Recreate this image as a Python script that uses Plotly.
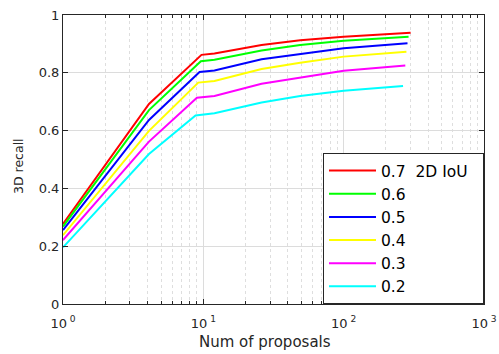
import plotly.graph_objects as go

names = ["0.7\u00a0\u00a02D IoU\u00a0\u00a0", "0.6", "0.5", "0.4", "0.3", "0.2"]
colors = ["#ff0000", "#00ff00", "#0000ff", "#ffff00", "#ff00ff", "#00ffff"]

x_red = [1, 4.1, 9.7, 12, 26, 49, 100, 300]
x_green = [1, 4.1, 9.6, 12, 26, 49, 100, 290]
x_blue = [1, 4.1, 9.4, 12, 26, 49, 100, 285]
x_yellow = [1, 4.1, 9.2, 12, 26, 49, 100, 280]
x_magenta = [1, 4.1, 9.0, 12, 26, 49, 100, 275]
x_cyan = [1, 4.1, 8.8, 12, 26, 49, 100, 265]

y_red = [0.277, 0.692, 0.862, 0.867, 0.896, 0.913, 0.925, 0.939]
y_green = [0.268, 0.671, 0.840, 0.845, 0.877, 0.896, 0.911, 0.925]
y_blue = [0.256, 0.637, 0.803, 0.808, 0.847, 0.865, 0.885, 0.902]
y_yellow = [0.238, 0.599, 0.766, 0.772, 0.813, 0.835, 0.856, 0.873]
y_magenta = [0.221, 0.562, 0.714, 0.720, 0.762, 0.784, 0.807, 0.825]
y_cyan = [0.196, 0.519, 0.652, 0.660, 0.697, 0.720, 0.738, 0.754]

xs = [x_red, x_green, x_blue, x_yellow, x_magenta, x_cyan]
ys = [y_red, y_green, y_blue, y_yellow, y_magenta, y_cyan]

x_tickvals = [1, 10, 100, 1000]
x_ticktext = ["10<sup> 0</sup>", "10<sup> 1</sup>", "10<sup> 2</sup>", "10<sup> 3</sup>"]
y_tickvals = [0, 0.2, 0.4, 0.6, 0.8, 1]
y_ticktext = ["0", "0.2", "0.4", "0.6", "0.8", "1"]

x_title = "Num of proposals"
y_title = "3D recall"

fig = go.Figure()
for n, c, x, y in zip(names, colors, xs, ys):
    fig.add_trace(go.Scatter(x=x, y=y, mode="lines", name=n,
                             line=dict(color=c, width=2)))

axcol = "#262626"
fam = "DejaVu Sans, sans-serif"
font = dict(family=fam, size=13, color=axcol)

W, H = 499, 354
L, R, T, B = 63, 15, 15, 50

fig.update_layout(
    width=W, height=H,
    margin=dict(l=L, r=R, t=T, b=B, autoexpand=False),
    paper_bgcolor="white", plot_bgcolor="white",
    font=font,
    showlegend=True,
    legend=dict(x=1, y=0, xanchor="right", yanchor="bottom",
                bgcolor="white", bordercolor=axcol, borderwidth=1,
                font=dict(family=fam, size=15.5, color="black"),
                tracegroupgap=0, itemwidth=47),
    annotations=[
        dict(text=x_title, xref="paper", yref="paper", x=(265 - L) / (W - L - R),
             y=-(342 - (H - B)) / (H - T - B), xanchor="center", yanchor="middle",
             showarrow=False, font=dict(family=fam, size=15, color=axcol)),
        dict(text=y_title, xref="paper", yref="paper", x=-(L - 18) / (W - L - R),
             y=((H - B) - 166) / (H - T - B), xanchor="center", yanchor="middle",
             textangle=-90, showarrow=False, font=dict(family=fam, size=12.5, color=axcol)),
    ],
)
fig.update_xaxes(
    type="log", range=[0, 3],
    tickvals=x_tickvals, ticktext=x_ticktext,
    ticks="inside", ticklen=5, tickcolor=axcol, ticklabelstandoff=7,
    showline=True, linecolor=axcol, linewidth=1, mirror="ticks",
    showgrid=True, gridcolor="#dcdcdc", gridwidth=1,
    zeroline=False, automargin=False,
    minor=dict(dtick="D1", ticks="inside", ticklen=3, tickcolor=axcol,
               showgrid=True, gridcolor="#dedede", griddash="dot", gridwidth=1),
)
fig.update_yaxes(
    range=[0, 1],
    tickvals=y_tickvals, ticktext=y_ticktext,
    ticks="inside", ticklen=5, tickcolor=axcol,
    showline=True, linecolor=axcol, linewidth=1, mirror="ticks",
    showgrid=True, gridcolor="#dcdcdc", gridwidth=1,
    zeroline=False, automargin=False,
)

fig.write_html("out.html", config={"displayModeBar": False},
               post_script="document.body.style.margin='0';document.body.style.overflow='hidden';")
